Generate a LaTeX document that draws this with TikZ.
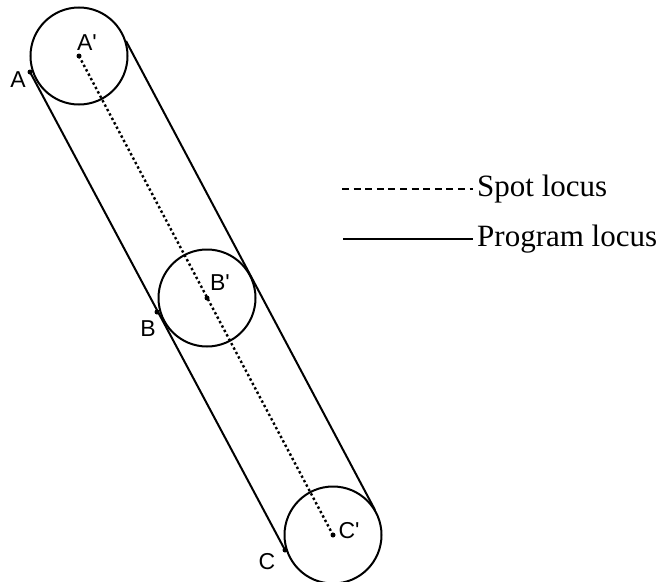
\documentclass[tikz,border=0pt]{standalone}
\usepackage{fontspec}
\setmainfont{Liberation Serif}
\newfontfamily\lblfont{Liberation Sans}
\usetikzlibrary{positioning}

\begin{document}
\begin{tikzpicture}[x=1pt,y=-1pt,wheel/.style={draw,circle,line width=2pt,minimum size=97pt,inner sep=0pt},dot/.style={circle,fill,inner sep=0pt,minimum size=5pt},lbl/.style={font=\lblfont\fontsize{23}{23}\selectfont,inner sep=0pt},line/.style={line width=2pt},spot/.style={line width=2.4pt,dash pattern=on 2.4pt off 2.6pt},key/.style={font=\fontsize{31}{31}\selectfont,anchor=west,inner xsep=4pt,inner ysep=0pt}]
\useasboundingbox (0,0) rectangle (668,581);
\node[wheel] (a1) at (79,56) {};
\node[wheel] (b1) at (207,298) {};
\node[wheel] (c1) at (333,535) {};
\node[dot] (a2) at (a1) {};\node[dot] (b2) at (b1) {};\node[dot] (c2) at (c1) {};
\node[dot] (a0) at (30,72) {};\node[dot] (b0) at (157,312) {};\node[dot] (c0) at (285,550) {};
\coordinate (r1) at (126,41);\coordinate (r2) at (375,510);
\node[lbl] at (87,43) {A'};\node[lbl] at (18,80) {A};
\node[lbl] at (220,283) {B'};\node[lbl] at (148,329) {B};
\node[lbl] at (349,531) {C'};\node[lbl] at (267,562) {C};
\draw[spot] (a1.center)--(c1.center);\draw[line] (a0.center)--(c0.center);\draw[line] (r1)--(r2);
\node[key] (s) at (473,189) {Spot locus};\coordinate (s0) at (342,189);
\node[key] (p) at (473,239) {Program locus};\coordinate (p0) at (343,239);
\draw[line,dash pattern=on 7pt off 4.6pt] (s0)--(s.west);\draw[line] (p0)--(p.west);
\end{tikzpicture}
\end{document}
